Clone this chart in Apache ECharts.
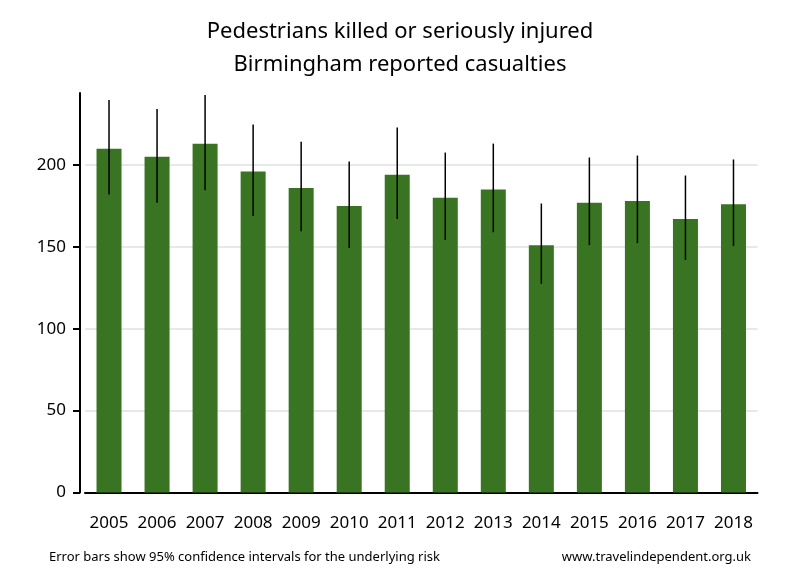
<!DOCTYPE html>
<html>
<head>
<meta charset="utf-8">
<script src="https://cdn.jsdelivr.net/npm/echarts@6/dist/echarts.min.js"></script>
<style>html,body{margin:0;padding:0;background:#fff}#c{width:800px;height:580px}</style>
</head>
<body>
<div id="c"></div>
<script>
const years = ['2005','2006','2007','2008','2009','2010','2011','2012','2013','2014','2015','2016','2017','2018'];
const casualties = [210, 205, 213, 196, 186, 175, 194, 180, 185, 151, 177, 178, 167, 176];
const lowerCI = [182, 177, 184.6, 168.8, 159.6, 149.3, 167, 154.2, 159, 127.5, 151.1, 152.3, 142, 150.5];
const upperCI = [239.8, 234.3, 242.8, 224.7, 214.3, 202.1, 222.9, 207.6, 213.1, 176.5, 204.6, 205.8, 193.6, 203.4];

const FONT = '"Noto Sans", "Open Sans", sans-serif';
const chart = echarts.init(document.getElementById('c'), null, {renderer: 'canvas'});
chart.setOption({
  animation: false,
  backgroundColor: '#ffffff',
  title: [
    {
      text: 'Pedestrians killed or seriously injured\nBirmingham reported casualties',
      left: 'center', top: 10,
      textStyle: {fontFamily: FONT, fontSize: 22, fontWeight: 'normal', color: '#000', lineHeight: 33}
    },
    {
      text: 'Error bars show 95% confidence intervals for the underlying risk',
      left: 44, top: 546,
      textStyle: {fontFamily: FONT, fontSize: 13, fontWeight: 'normal', color: '#000'}
    },
    {
      text: 'www.travelindependent.org.uk',
      right: 44, top: 546,
      textStyle: {fontFamily: FONT, fontSize: 13, fontWeight: 'normal', color: '#000'}
    }
  ],
  grid: {left: 85, right: 42.5, top: 93, bottom: 87.5, containLabel: false},
  xAxis: {
    type: 'category',
    data: years,
    axisLine: {show: true, lineStyle: {color: '#000', width: 2}},
    axisTick: {show: false},
    axisLabel: {fontFamily: FONT, fontSize: 17, color: '#000', margin: 22, interval: 0}
  },
  yAxis: {
    type: 'value',
    min: 0, max: 244, interval: 50,
    offset: 5,
    axisLine: {show: true, lineStyle: {color: '#000', width: 2}},
    axisTick: {show: true, length: 7, lineStyle: {color: '#000', width: 2}},
    axisLabel: {fontFamily: FONT, fontSize: 17, color: '#000', margin: 14, showMaxLabel: false},
    splitLine: {show: true, showMaxLine: false, showMinLine: false, lineStyle: {color: '#e8e8e8', width: 2}}
  },
  series: [
    {
      type: 'bar',
      data: casualties,
      barWidth: 25,
      itemStyle: {color: '#387421'}
    },
    {
      type: 'custom',
      data: years.map((y, i) => [i, lowerCI[i], upperCI[i]]),
      renderItem: function (params, api) {
        const lo = api.coord([api.value(0), api.value(1)]);
        const hi = api.coord([api.value(0), api.value(2)]);
        return {
          type: 'line',
          shape: {x1: lo[0], y1: lo[1], x2: hi[0], y2: hi[1]},
          style: {stroke: '#000', lineWidth: 1.5}
        };
      },
      z: 5
    }
  ]
});
</script>
</body>
</html>
